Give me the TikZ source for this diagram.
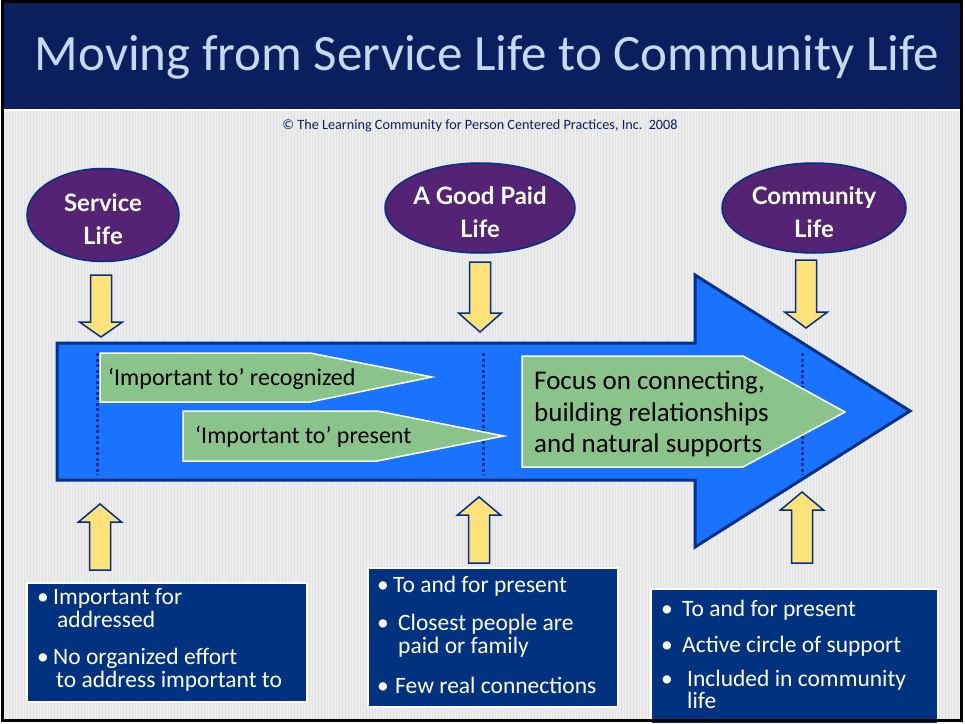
\documentclass[tikz,border=0pt]{standalone}
\usepackage{fontspec}
\setmainfont{Carlito}
\newfontfamily\ovalfont{Lato}
\usetikzlibrary{positioning,calc,shapes.geometric}

\definecolor{titlenavy}{RGB}{11,31,94}
\definecolor{titleblue}{RGB}{198,217,241}
\definecolor{slidegray}{RGB}{236,236,236}
\definecolor{stripegray}{RGB}{226,226,226}
\definecolor{ovalpurple}{RGB}{84,35,116}
\definecolor{edgenavy}{RGB}{0,48,135}
\definecolor{pointeryellow}{RGB}{255,226,122}
\definecolor{flowblue}{RGB}{26,115,255}
\definecolor{stepgreen}{RGB}{138,196,138}
\definecolor{boxnavy}{RGB}{0,50,128}

\begin{document}
\begin{tikzpicture}[x=1pt, y=-1pt,
	stage/.style={ellipse, draw=edgenavy, line width=1.5pt, fill=ovalpurple, inner sep=0pt},
	stagetext/.style={text=white, inner sep=0pt, align=center, yshift=-4pt,
		font=\ovalfont\bfseries\fontsize{24}{33}\selectfont},
	pointer/.style={draw=edgenavy, line width=1.5pt, fill=pointeryellow},
	greenstep/.style={draw=white, line width=1.5pt, fill=stepgreen},
	steptext/.style={anchor=base west, inner sep=0pt, font=\fontsize{24}{28}\selectfont},
	focustext/.style={anchor=base west, inner sep=0pt, font=\fontsize{27}{30}\selectfont},
	infobox/.style={draw=white, line width=1.5pt, fill=boxnavy},
	infotext/.style={anchor=base west, inner sep=0pt, text=white, align=left,
		font=\fontsize{23.5}{23}\selectfont},
	bulletmark/.style={anchor=base, inner sep=0pt, text=white, font=\fontsize{23.5}{23}\selectfont}]
	\useasboundingbox (0,0) rectangle (965,723);

	% slide background and title bar
	\fill[white] (0,0) rectangle (965,723);
	\fill[slidegray] (4,111) rectangle (961,720);
	\foreach \x in {6,9,...,960}
		\draw[stripegray, line width=1pt] (\x,111) -- (\x,720);
	\fill[titlenavy] (4,2) rectangle (961,109);
	\node (title) at (487,57) [text=titleblue, font=\fontsize{51}{54}\selectfont] {Moving from Service Life to Community Life};
	\node (credit) at (480,126) [text=titlenavy, font=\fontsize{14.2}{16}\selectfont] {© The Learning Community for Person Centered Practices, Inc.~~2008};

	% the three stages
	\node[stage, minimum width=152pt, minimum height=93pt] (service) at (103,215) {};
	\node[stage, minimum width=190pt, minimum height=90pt] (paid) at (480,208) {};
	\node[stage, minimum width=184pt, minimum height=90pt] (community) at (814,208) {};
	\node[stagetext] (servicetext) at (service.center) {Service\\Life};
	\node[stagetext] (paidtext) at (paid.center) {A Good Paid\\Life};
	\node[stagetext] (communitytext) at (community.center) {Community\\Life};

	% big blue arrow
	\draw[edgenavy, line width=3pt, fill=flowblue, line join=miter]
		(57,343) -- (695,343) -- (695,275) -- (910,411) -- (695,547) -- (695,480) -- (57,480) -- cycle;

	% stage markers along the arrow
	\foreach \x in {97,483,802}
		\draw[edgenavy, line width=3pt, dash pattern=on 3pt off 2.5pt] (\x,353) -- (\x,475);

	% green steps
	\draw[greenstep] (100,353) -- (310,353) -- (432,377) -- (310,402) -- (100,402) -- cycle;
	\draw[greenstep] (183,411) -- (377,411) -- (504,436) -- (377,461) -- (183,461) -- cycle;
	\draw[greenstep] (522,356) -- (743,356) -- (845,412) -- (743,467) -- (522,467) -- cycle;
	\node[steptext] (recog) at (108,385) {`Important to' recognized};
	\node[steptext] (present) at (195,443) {`Important to' present};
	\node[focustext] (focus1) at (534,389) {Focus on connecting,};
	\node[focustext] (focus2) at (534,421) {building relationships};
	\node[focustext] (focus3) at (534,452) {and natural supports};

	% yellow pointers: down from the stages, up from the notes
	\foreach \x/\ya/\yb/\yc in {101/275/322/337, 480/262/313/332, 806/260/312/328}
		\draw[pointer] (\x-10.5,\ya) -- (\x+10.5,\ya) -- (\x+10.5,\yb) -- (\x+21.5,\yb) -- (\x,\yc)
			-- (\x-21.5,\yb) -- (\x-10.5,\yb) -- cycle;
	\foreach \x/\ya/\yb/\yc in {100/570/522/504, 479/563/515/497, 802/563/510/492}
		\draw[pointer] (\x-10.5,\ya) -- (\x+10.5,\ya) -- (\x+10.5,\yb) -- (\x+21.5,\yb) -- (\x,\yc)
			-- (\x-21.5,\yb) -- (\x-10.5,\yb) -- cycle;

	% notes under each stage (multi-line nodes sit on their last baseline)
	\draw[infobox] (27,583) rectangle (307,702);
	\foreach \y in {604,664}
		\node[bulletmark] at (43,\y) {\textbullet};
	\node[infotext] (note1a) at (53,627) {Important for\\\hspace*{4pt}addressed};
	\node[infotext] (note1b) at (53,687) {No organized effort\\\hspace*{3pt}to address important to};

	\draw[infobox] (368,568) rectangle (618,707);
	\foreach \y in {592,630,693}
		\node[bulletmark] at (383,\y) {\textbullet};
	\node[infotext] (note2a) at (393,592) {To and for present};
	\node[infotext] (note2b) at (398,653) {Closest people are\\paid or family};
	\node[infotext] (note2c) at (395,693) {Few real connections};

	\draw[infobox] (651,589) rectangle (938,724);
	\foreach \y in {616,652,686}
		\node[bulletmark] at (667,\y) {\textbullet};
	\node[infotext] (note3a) at (682,616) {To and for present};
	\node[infotext] (note3b) at (682,652) {Active circle of support};
	\node[infotext, font=\fontsize{23.5}{22}\selectfont] (note3c) at (687,708) {Included in community\\life};

	% outer frame
	\draw[black, line width=3pt] (2,1.5) rectangle (961,720.5);
\end{tikzpicture}
\end{document}
